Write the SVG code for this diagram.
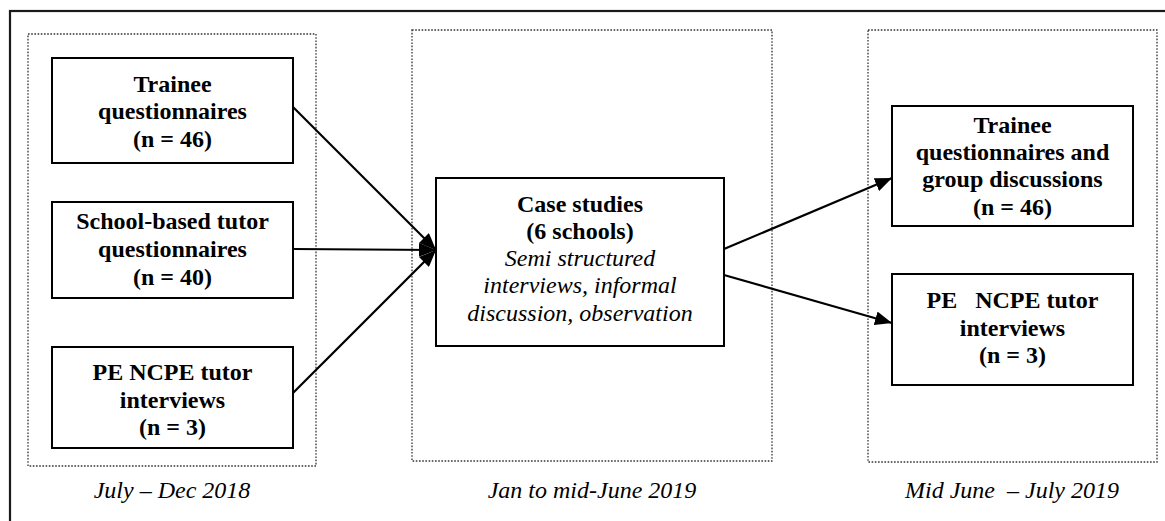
<svg xmlns="http://www.w3.org/2000/svg" width="1165" height="521" viewBox="0 0 1165 521">
<defs>
<style>
.frame{fill:none;stroke:#1a1a1a;stroke-width:2.2}
.period{fill:none;stroke:#333;stroke-width:1.3;stroke-dasharray:1.6 1.6}
.box{fill:#fff;stroke:#000;stroke-width:2}
text{font-family:'Liberation Serif','DejaVu Serif',serif;font-size:24px;text-anchor:middle;fill:#000}
.b{font-weight:bold}
.i{font-style:italic}
.conn{fill:none;stroke:#000;stroke-width:2.2}
</style>
<marker id="arr" markerUnits="userSpaceOnUse" markerWidth="18" markerHeight="14" refX="17" refY="7" orient="auto">
<path d="M0,0 L17,7 L0,14 z" fill="#000"/>
</marker>
</defs>
<rect x="0" y="0" width="1165" height="521" fill="#fff"/>
<rect class="frame" x="10" y="11" width="1170" height="520"/>

<g id="period-1">
<rect class="period" x="28" y="34" width="288" height="432"/>
<text class="i" x="172" y="498" font-family="Liberation Serif, DejaVu Serif, serif">July – Dec 2018</text>
</g>
<g id="period-2">
<rect class="period" x="412" y="30" width="360" height="431"/>
<text class="i" x="592" y="498" font-family="Liberation Serif, DejaVu Serif, serif">Jan to mid-June 2019</text>
</g>
<g id="period-3">
<rect class="period" x="868" y="30" width="289" height="432"/>
<text class="i" x="1012" y="498" font-family="Liberation Serif, DejaVu Serif, serif" xml:space="preserve">Mid June  – July 2019</text>
</g>

<g id="connectors">
<line class="conn" x1="293" y1="107" x2="436" y2="250" marker-end="url(#arr)"/>
<line class="conn" x1="293" y1="249" x2="436" y2="250" marker-end="url(#arr)"/>
<line class="conn" x1="293" y1="393" x2="436" y2="250" marker-end="url(#arr)"/>
<line class="conn" x1="724" y1="249" x2="892" y2="178" marker-end="url(#arr)"/>
<line class="conn" x1="724" y1="275" x2="892" y2="323" marker-end="url(#arr)"/>
</g>

<g id="trainee-q" font-family="Liberation Serif, DejaVu Serif, serif">
<rect class="box" x="52" y="58" width="241" height="105"/>
<text class="b" x="172.5" y="92">Trainee</text>
<text class="b" x="172.5" y="119">questionnaires</text>
<text class="b" x="172.5" y="147">(n = 46)</text>
</g>
<g id="school-tutor-q" font-family="Liberation Serif, DejaVu Serif, serif">
<rect class="box" x="52" y="202" width="241" height="96"/>
<text class="b" x="172.5" y="229">School-based tutor</text>
<text class="b" x="172.5" y="257">questionnaires</text>
<text class="b" x="172.5" y="285">(n = 40)</text>
</g>
<g id="pe-tutor-int-1" font-family="Liberation Serif, DejaVu Serif, serif">
<rect class="box" x="52" y="347" width="241" height="101"/>
<text class="b" x="172.5" y="380">PE NCPE tutor</text>
<text class="b" x="172.5" y="408">interviews</text>
<text class="b" x="172.5" y="435">(n = 3)</text>
</g>
<g id="case-studies" font-family="Liberation Serif, DejaVu Serif, serif">
<rect class="box" x="436" y="178" width="288" height="168"/>
<text class="b" x="580" y="212">Case studies</text>
<text class="b" x="580" y="239">(6 schools)</text>
<text class="i" x="580" y="266">Semi structured</text>
<text class="i" x="580" y="293">interviews, informal</text>
<text class="i" x="580" y="321">discussion, observation</text>
</g>
<g id="trainee-q-groups" font-family="Liberation Serif, DejaVu Serif, serif">
<rect class="box" x="892" y="106" width="241" height="120"/>
<text class="b" x="1012.5" y="133">Trainee</text>
<text class="b" x="1012.5" y="160">questionnaires and</text>
<text class="b" x="1012.5" y="187">group discussions</text>
<text class="b" x="1012.5" y="215">(n = 46)</text>
</g>
<g id="pe-tutor-int-2" font-family="Liberation Serif, DejaVu Serif, serif">
<rect class="box" x="892" y="274" width="241" height="111"/>
<text class="b" x="1012.5" y="308" xml:space="preserve">PE   NCPE tutor</text>
<text class="b" x="1012.5" y="336">interviews</text>
<text class="b" x="1012.5" y="363">(n = 3)</text>
</g>
</svg>
